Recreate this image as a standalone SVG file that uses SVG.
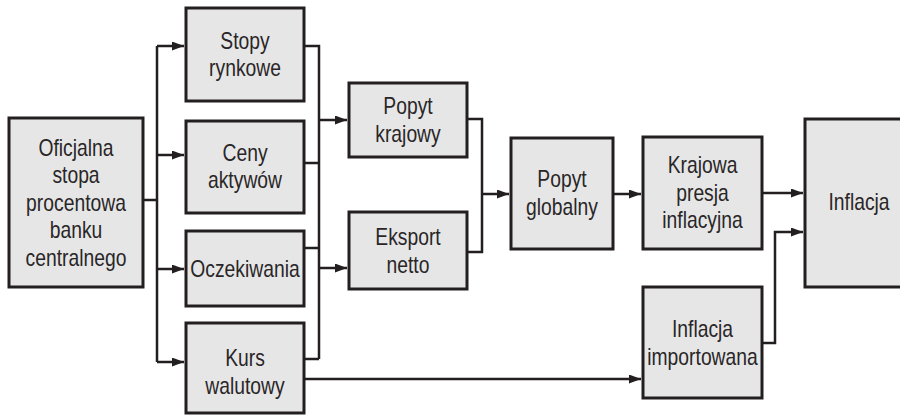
<svg xmlns="http://www.w3.org/2000/svg" width="900" height="416" viewBox="0 0 900 416">
<style>
.box{fill:#e6e6e7;stroke:#231f20;stroke-width:3}
.t{font-family:"Liberation Sans",Arial,sans-serif;font-size:23px;fill:#2a2627;text-anchor:middle}
.c{fill:none;stroke:#231f20;stroke-width:2.5}
.a{marker-end:url(#ah)}
</style>
<defs>
<marker id="ah" markerUnits="userSpaceOnUse" markerWidth="13" markerHeight="10" refX="12" refY="4.5" orient="auto">
<path d="M0,0 L12,4.5 L0,9 z" fill="#231f20"/>
</marker>
</defs>
<rect width="900" height="416" fill="#ffffff"/>
<g id="connectors">
<path class="c" d="M143,200 H157 M157,46 V362"/>
<path class="c a" d="M157,46 H184"/>
<path class="c a" d="M157,155 H184"/>
<path class="c a" d="M157,269 H184"/>
<path class="c a" d="M157,362 H184"/>
<path class="c" d="M304,46 H319 V359 M304,163 H319 M304,248 H319 M304,359 H319"/>
<path class="c a" d="M319,120 H347"/>
<path class="c a" d="M319,268 H347"/>
<path class="c" d="M467,119 H482 V252 H467"/>
<path class="c a" d="M482,194 H509"/>
<path class="c a" d="M613,194 H641"/>
<path class="c a" d="M762,193 H803"/>
<path class="c a" d="M762,343 H775 V232 H803"/>
<path class="c a" d="M304,379 H641"/>
</g>
<g id="oficjalna">
<rect class="box" x="9" y="118" width="134" height="169"/>
<g transform="translate(76 0) scale(0.84 1)">
<text class="t" x="0" y="156">Oficjalna</text>
<text class="t" x="0" y="183.5">stopa</text>
<text class="t" x="0" y="211">procentowa</text>
<text class="t" x="0" y="238.5">banku</text>
<text class="t" x="0" y="266">centralnego</text>
</g>
</g>
<g id="stopy">
<rect class="box" x="186" y="8" width="118" height="93"/>
<g transform="translate(245 0) scale(0.84 1)">
<text class="t" x="0" y="49.5">Stopy</text>
<text class="t" x="0" y="76.5">rynkowe</text>
</g>
</g>
<g id="ceny">
<rect class="box" x="186" y="121" width="118" height="92"/>
<g transform="translate(245 0) scale(0.84 1)">
<text class="t" x="0" y="161.5">Ceny</text>
<text class="t" x="0" y="188.5">aktywów</text>
</g>
</g>
<g id="oczekiwania">
<rect class="box" x="186" y="231" width="118" height="75"/>
<g transform="translate(245 0) scale(0.84 1)">
<text class="t" x="0" y="277.5">Oczekiwania</text>
</g>
</g>
<g id="kurs">
<rect class="box" x="186" y="323" width="118" height="90"/>
<g transform="translate(245 0) scale(0.84 1)">
<text class="t" x="0" y="366.5">Kurs</text>
<text class="t" x="0" y="394.5">walutowy</text>
</g>
</g>
<g id="popyt-krajowy">
<rect class="box" x="349" y="83" width="118" height="74"/>
<g transform="translate(408 0) scale(0.84 1)">
<text class="t" x="0" y="114.5">Popyt</text>
<text class="t" x="0" y="142">krajowy</text>
</g>
</g>
<g id="eksport-netto">
<rect class="box" x="349" y="212" width="118" height="77"/>
<g transform="translate(408 0) scale(0.84 1)">
<text class="t" x="0" y="245.5">Eksport</text>
<text class="t" x="0" y="273">netto</text>
</g>
</g>
<g id="popyt-globalny">
<rect class="box" x="511" y="138" width="102" height="111"/>
<g transform="translate(562 0) scale(0.84 1)">
<text class="t" x="0" y="187.5">Popyt</text>
<text class="t" x="0" y="215.5">globalny</text>
</g>
</g>
<g id="krajowa-presja">
<rect class="box" x="643" y="137" width="119" height="112"/>
<g transform="translate(702.5 0) scale(0.84 1)">
<text class="t" x="0" y="173.5">Krajowa</text>
<text class="t" x="0" y="201">presja</text>
<text class="t" x="0" y="228.5">inflacyjna</text>
</g>
</g>
<g id="inflacja-importowana">
<rect class="box" x="643" y="287" width="119" height="111"/>
<g transform="translate(702.5 0) scale(0.84 1)">
<text class="t" x="0" y="337.5">Inflacja</text>
<text class="t" x="0" y="365">importowana</text>
</g>
</g>
<g id="inflacja">
<rect class="box" x="805" y="119" width="110" height="168"/>
<g transform="translate(859 0) scale(0.84 1)">
<text class="t" x="0" y="210.5">Inflacja</text>
</g>
</g>
</svg>
